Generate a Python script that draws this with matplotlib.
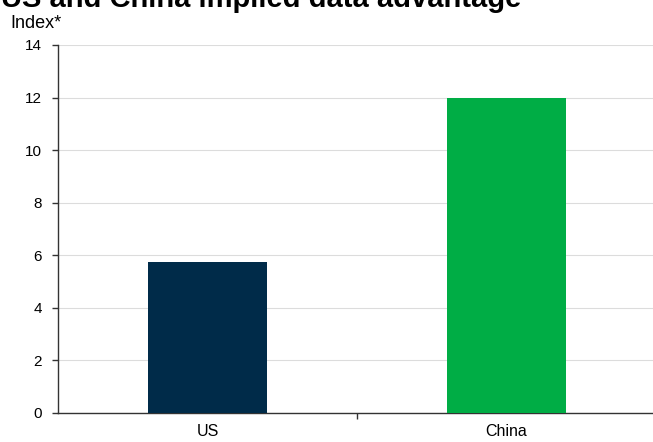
import matplotlib.pyplot as plt
import numpy as np

plt.rcParams['font.family'] = ['Liberation Sans', 'DejaVu Sans']

countries = ["US", "China"]
index_values = [5.75, 12.0]
bar_colors = ["#002b49", "#00ad45"]

W, H = 653, 442
fig = plt.figure(figsize=(W / 100, H / 100), dpi=100)
# plot area: x from 58 px, zero line at 413 px, top gridline at 45 px
ax = fig.add_axes([58 / W, (H - 413) / H, 598 / W, 368 / H])

x = np.arange(len(countries))
ax.bar(x, index_values, width=0.4, color=bar_colors, zorder=3)

ax.set_ylim(0, 14)
ax.set_yticks(np.arange(0, 15, 2))
ax.set_xlim(-0.5, 1.5)
ax.set_xticks(x)
ax.set_xticklabels(countries)
ax.set_xticks([0.5], minor=True)

ax.grid(axis="y", color="#dcdcdc", linewidth=0.8, zorder=0)
for side in ["top", "right"]:
    ax.spines[side].set_visible(False)
for side in ["left", "bottom"]:
    ax.spines[side].set_color("#333333")
    ax.spines[side].set_linewidth(1.0)
ax.tick_params(axis="y", length=4.5, width=1.0, color="#333333", labelsize=11, pad=7)
ax.tick_params(axis="x", which="major", length=0, labelsize=11.5, pad=8)
ax.tick_params(axis="x", which="minor", length=4, width=1.0, color="#333333")

fig.text(1 / W, 1 - 7 / H, "US and China implied data advantage",
         fontsize=21, fontweight="bold", va="baseline", ha="left")
fig.text(10 / W, 1 - 28 / H, "Index*", fontsize=13, va="baseline", ha="left")

fig.savefig("out.png", dpi=100)
